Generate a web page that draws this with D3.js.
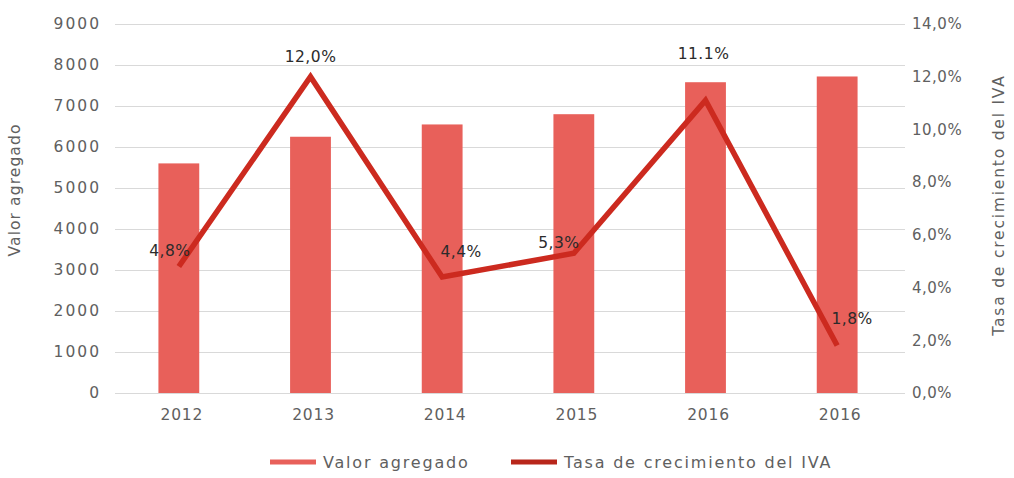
<!DOCTYPE html>
<html>
<head>
<meta charset="utf-8">
<script src="https://cdn.jsdelivr.net/npm/d3@7"></script>
<style>
  html, body { margin: 0; padding: 0; background: #fff; }
  svg { display: block; }
  text { font-family: "DejaVu Sans", sans-serif; }
</style>
</head>
<body>
<svg id="chart" width="1014" height="478"></svg>
<script>
const categories = ["2012", "2013", "2014", "2015", "2016", "2016b"];
const categoryLabels = ["2012", "2013", "2014", "2015", "2016", "2016"];
const valorAgregado = [5600, 6250, 6550, 6800, 7580, 7720];
const tasaCrecimiento = [0.048, 0.120, 0.044, 0.053, 0.111, 0.018];
const tasaLabels = ["4,8%", "12,0%", "4,4%", "5,3%", "11.1%", "1,8%"];
const leftTicks = [0, 1000, 2000, 3000, 4000, 5000, 6000, 7000, 8000, 9000];
const rightTicks = [0, 0.02, 0.04, 0.06, 0.08, 0.10, 0.12, 0.14];
const legendLabels = ["Valor agregado", "Tasa de crecimiento  del IVA"];

// label placement offsets (layout)
const labelDx = [-9, 0, 19, -15, -2, 15];
const labelDy = [-16, -20, -25, -11, -47, -27];

const W = 1014, H = 478;
const plot = { left: 113, right: 903, top: 24, bottom: 393 };
const barColor = "#E8605A";
const lineColor = "#CC2A1F";
const textColor = "#606060";

const svg = d3.select("#chart");

const x = d3.scaleBand().domain(categories).range([plot.left, plot.right]).paddingInner(0.69).paddingOuter(0.345);
const yL = d3.scaleLinear().domain([0, 9000]).range([plot.bottom, plot.top]);
const yR = d3.scaleLinear().domain([0, 0.14]).range([plot.bottom, plot.top]);

// gridlines
svg.append("g").selectAll("line").data(leftTicks).join("line")
  .attr("x1", 115).attr("x2", 905)
  .attr("y1", d => Math.round(yL(d)) + 0.5).attr("y2", d => Math.round(yL(d)) + 0.5)
  .attr("stroke", "#d9d9d9").attr("stroke-width", 1);

// left axis
const leftAxis = svg.append("g").attr("transform", `translate(101,0)`)
  .call(d3.axisLeft(yL).tickValues(leftTicks).tickSize(0).tickPadding(0).tickFormat(d3.format("d")));
leftAxis.select(".domain").remove();
leftAxis.selectAll("text").attr("fill", textColor).attr("font-size", 15.5).attr("letter-spacing", 2);

// right axis
const rightAxis = svg.append("g").attr("transform", `translate(912,0)`)
  .call(d3.axisRight(yR).tickValues(rightTicks).tickSize(0).tickPadding(0)
    .tickFormat(d => d3.format(".1f")(d * 100).replace(".", ",") + "%"));
rightAxis.select(".domain").remove();
rightAxis.selectAll("text").attr("fill", textColor).attr("font-size", 15).attr("letter-spacing", 0.5);

// bottom axis
const bottomAxis = svg.append("g").attr("transform", `translate(3,${plot.bottom + 16})`)
  .call(d3.axisBottom(x).tickSize(0).tickPadding(0).tickFormat((d, i) => categoryLabels[i]));
bottomAxis.select(".domain").remove();
bottomAxis.selectAll("text").attr("fill", textColor).attr("font-size", 15.5).attr("letter-spacing", 0.8).attr("dy", "0.71em");

// axis titles
svg.append("text")
  .attr("transform", `translate(20,190) rotate(-90)`)
  .attr("text-anchor", "middle").attr("fill", textColor)
  .attr("font-size", 15.5).attr("letter-spacing", 1.1)
  .text("Valor agregado");
svg.append("text")
  .attr("transform", `translate(1004,205) rotate(-90)`)
  .attr("text-anchor", "middle").attr("fill", textColor)
  .attr("font-size", 15.5).attr("letter-spacing", 1.8)
  .text("Tasa de crecimiento del IVA");

// bars
svg.append("g").selectAll("rect").data(categories).join("rect")
  .attr("x", d => x(d)).attr("width", x.bandwidth())
  .attr("y", (d, i) => yL(valorAgregado[i]))
  .attr("height", (d, i) => yL(0) - yL(valorAgregado[i]))
  .attr("fill", barColor);

// line
const line = d3.line()
  .x((d, i) => x(categories[i]) + x.bandwidth() / 2)
  .y(d => yR(d));
svg.append("path").datum(tasaCrecimiento)
  .attr("d", line).attr("fill", "none")
  .attr("stroke", lineColor).attr("stroke-width", 5.5)
  .attr("stroke-linejoin", "miter").attr("stroke-linecap", "butt");

// data labels
svg.append("g").selectAll("text").data(tasaCrecimiento).join("text")
  .attr("x", (d, i) => x(categories[i]) + x.bandwidth() / 2 + labelDx[i])
  .attr("y", (d, i) => yR(d) + labelDy[i])
  .attr("dy", "0.35em")
  .attr("text-anchor", "middle")
  .attr("fill", "#2b2b2b").attr("font-size", 15.5).attr("letter-spacing", 0.5)
  .text((d, i) => tasaLabels[i]);

// legend
const legend = svg.append("g");
const legendItems = [
  { label: legendLabels[0], color: barColor, x: 270 },
  { label: legendLabels[1], color: "#B8261B", x: 511 }
];
legendItems.forEach(it => {
  legend.append("line")
    .attr("x1", it.x).attr("x2", it.x + 46)
    .attr("y1", 462).attr("y2", 462)
    .attr("stroke", it.color).attr("stroke-width", 5);
  legend.append("text")
    .attr("x", it.x + 53).attr("y", 462).attr("dy", "0.35em")
    .attr("fill", textColor).attr("font-size", 16).attr("letter-spacing", 1.8)
    .text(it.label);
});
</script>
</body>
</html>
